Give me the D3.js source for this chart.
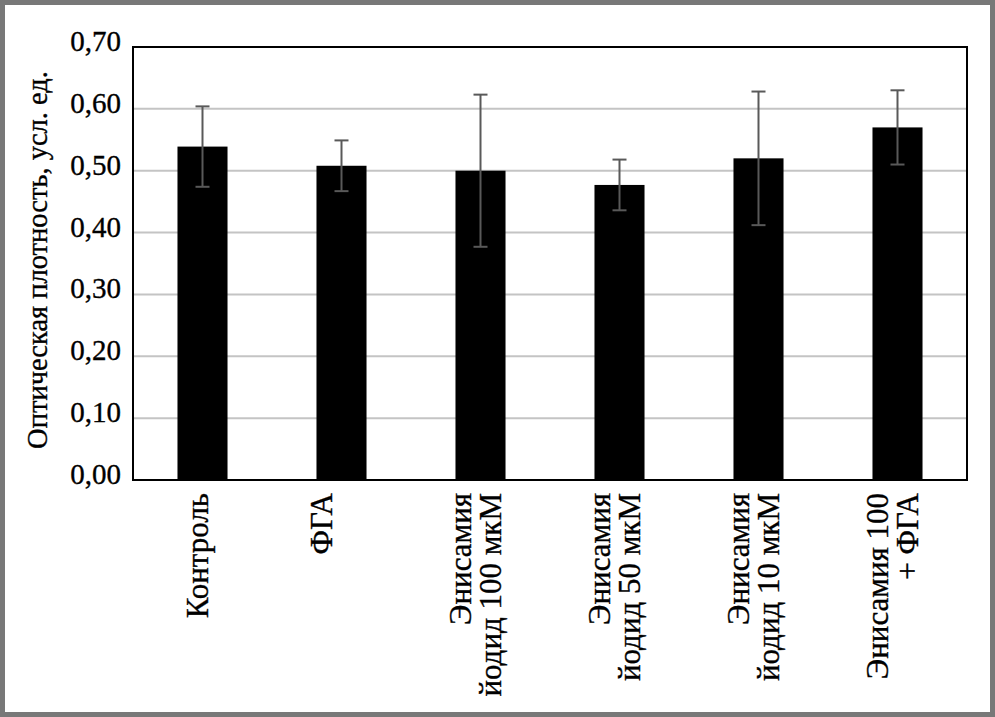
<!DOCTYPE html>
<html>
<head>
<meta charset="utf-8">
<script src="https://cdn.jsdelivr.net/npm/d3@7"></script>
<style>
  html, body { margin: 0; padding: 0; background: #fff; }
</style>
</head>
<body>
<svg id="chart"></svg>
<script>
// group labels, one entry per line (ФГА carries an empty 2nd line like the original)
var categories = [
  ["Контроль"],
  ["ФГА", ""],
  ["Энисамия", "йодид 100 мкМ"],
  ["Энисамия", "йодид 50 мкМ"],
  ["Энисамия", "йодид 10 мкМ"],
  ["Энисамия 100", "+ ФГА"]
];
var means = [0.539, 0.508, 0.500, 0.477, 0.520, 0.570];
var errors = [0.065, 0.041, 0.123, 0.041, 0.108, 0.060];
var yTicks = [0, 0.1, 0.2, 0.3, 0.4, 0.5, 0.6, 0.7];
var yTitle = "Оптическая плотность, усл. ед.";

var width = 995, height = 717;
var margin = {top: 47, right: 28, bottom: 237, left: 133};
var serif = "'Liberation Serif'";

var svg = d3.select("#chart")
  .attr("width", width)
  .attr("height", height);

// outer frame
svg.append("rect")
  .attr("x", 2.5).attr("y", 2.5)
  .attr("width", width - 5).attr("height", height - 5)
  .attr("fill", "#fff")
  .attr("stroke", "#787878")
  .attr("stroke-width", 5);

var x = d3.scaleBand()
  .domain(d3.range(categories.length))
  .range([margin.left, width - margin.right])
  .paddingInner(0.64)
  .paddingOuter(0.32);

var y = d3.scaleLinear()
  .domain([0, 0.7])
  .range([height - margin.bottom, margin.top]);

var fmt = function(v) { return d3.format(".2f")(v).replace(".", ","); };

// gridlines
svg.append("g")
  .selectAll("line")
  .data(yTicks.filter(function(d) { return d > 0 && d < 0.7; }))
  .enter().append("line")
    .attr("x1", margin.left).attr("x2", width - margin.right)
    .attr("y1", function(d) { return y(d); })
    .attr("y2", function(d) { return y(d); })
    .attr("stroke", "#c4c4c4")
    .attr("stroke-width", 2);

// bars
svg.append("g")
  .selectAll("rect")
  .data(means)
  .enter().append("rect")
    .attr("x", function(d, i) { return x(i); })
    .attr("width", x.bandwidth())
    .attr("y", function(d) { return y(d); })
    .attr("height", function(d) { return y(0) - y(d); })
    .attr("fill", "#000");

// error bars
var eb = svg.append("g")
  .attr("stroke", "#595959")
  .attr("stroke-width", 2)
  .selectAll("g")
  .data(means)
  .enter().append("g")
    .attr("transform", function(d, i) { return "translate(" + (x(i) + x.bandwidth() / 2) + ",0)"; });

eb.append("line")
  .attr("y1", function(d, i) { return y(d + errors[i]); })
  .attr("y2", function(d, i) { return y(d - errors[i]); });
eb.append("line")
  .attr("x1", -7).attr("x2", 7)
  .attr("y1", function(d, i) { return y(d + errors[i]); })
  .attr("y2", function(d, i) { return y(d + errors[i]); });
eb.append("line")
  .attr("x1", -7).attr("x2", 7)
  .attr("y1", function(d, i) { return y(d - errors[i]); })
  .attr("y2", function(d, i) { return y(d - errors[i]); });

// plot border
svg.append("rect")
  .attr("x", margin.left).attr("y", margin.top)
  .attr("width", width - margin.left - margin.right)
  .attr("height", height - margin.top - margin.bottom)
  .attr("fill", "none")
  .attr("stroke", "#000")
  .attr("stroke-width", 2);

// all text gets a thin stroke: the original's Times is a bit heavier
var txt = svg.append("g")
  .attr("font-family", serif)
  .attr("fill", "#000")
  .attr("stroke", "#000")
  .attr("stroke-width", 0.35);

// y tick labels
txt.append("g")
  .selectAll("text")
  .data(yTicks)
  .enter().append("text")
    .attr("x", 121)
    .attr("y", function(d) { return y(d) + 4; })
    .attr("text-anchor", "end")
    .attr("font-family", serif)
    .attr("font-size", 29)
    .text(fmt);

// y title
txt.append("text")
  .attr("transform", "translate(47,260) rotate(-90)")
  .attr("text-anchor", "middle")
  .attr("font-family", serif)
  .attr("font-size", 28.5)
  .text(yTitle);

// category labels, rotated
var lab = txt.append("g")
  .selectAll("g")
  .data(categories)
  .enter().append("g");

lab.each(function(lines, i) {
  var cx = x(i) + x.bandwidth() / 2;
  var n = lines.length;
  d3.select(this).selectAll("text")
    .data(lines)
    .enter().append("text")
      .attr("text-anchor", "end")
      .attr("font-family", serif)
      .attr("font-size", 31)
      .attr("transform", function(t, j) {
        var base = cx + 5 + (j - (n - 1) / 2) * 30;
        return "translate(" + base + "," + (y(0) + 13) + ") rotate(-90)";
      })
      .text(function(t) { return t; });
});
</script>
</body>
</html>
